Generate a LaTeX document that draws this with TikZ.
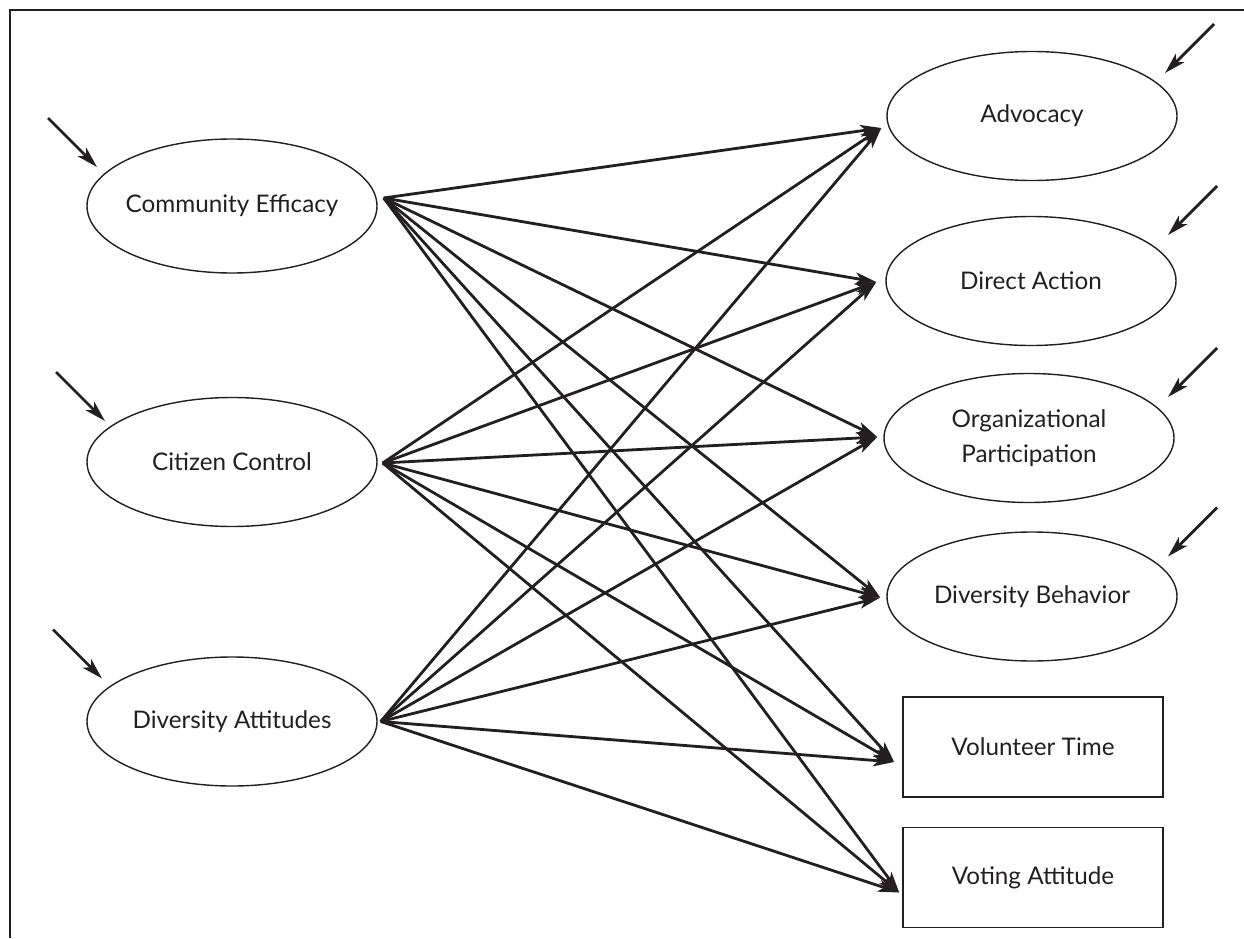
\documentclass[tikz,border=0pt]{standalone}
\usepackage{fontspec}
\setmainfont{Lato}
\usetikzlibrary{positioning, math, shapes.geometric, arrows.meta}
\definecolor{ink}{HTML}{231F20}
\tikzset{
latent/.style={draw=ink, ellipse, line width=0.4pt, minimum width=2.9cm, minimum height=1.29cm, inner sep=0pt, inner xsep=-0.1cm, align=center, text=ink, font=\fontsize{6.9}{9.9}\selectfont},
measured/.style={draw=ink, rectangle, line width=0.45pt, minimum width=2.6cm, minimum height=1cm, inner sep=0pt, text=ink, font=\fontsize{6.9}{9.9}\selectfont},
effect/.style={draw=ink, line width=0.8pt, -{Stealth[length=6pt, width=3.4pt, inset=1.5pt]}},
resid/.style={effect},
frame/.style={draw=ink, line width=0.75pt},
}

\begin{document}
\begin{tikzpicture}
    \tikzmath{ \err=0.49; };  % length of the residual arrows
    \useasboundingbox (0,0) rectangle (12.44,-9.38);

    %frame
    \draw[frame] (0.10,-9.38) -- (0.10,-0.10) -- (12.44,-0.10);

    %exogenous nodes
    \node[latent, minimum height=1.34cm] (ce) at (2.32,-2.06) {Community Efficacy};
    \node[latent]   (cc) at (2.32,-4.62)  {Citizen Control};
    \node[latent]   (da) at (2.32,-7.215) {Diversity Attitudes};

    %endogenous nodes
    \node[latent]  (adv) at (10.32,-1.16)  {Advocacy};
    \node[latent]  (dir) at (10.31,-2.81)  {Direct Action};
    \node[latent]  (org) at (10.29,-4.38)  {Organizational\\Participation};
    \node[latent] (divb) at (10.32,-5.965) {Diversity Behavior};
    \node[measured] (vt) at (10.33,-7.47)  {Volunteer Time};
    \node[measured] (va) at (10.33,-8.775) {Voting Attitude};

    %start points
    \coordinate (ce out) at ([shift={(0.06,0.08)}]ce.east);
    \coordinate (cc out) at ([shift={(0.05,-0.01)}]cc.east);
    \coordinate (da out) at ([shift={(0.03,0)}]da.east);

    %end points
    \coordinate (adv in)  at ([shift={(-0.05,-0.12)}]adv.west);
    \coordinate (dir in)  at ([shift={(-0.09,-0.01)}]dir.west);
    \coordinate (org in)  at ([shift={(-0.06,0.01)}]org.west);
    \coordinate (divb in) at ([shift={(-0.06,-0.01)}]divb.west);
    \coordinate (vt in)   at ([shift={(-0.08,-0.15)}]vt.west);
    \coordinate (va in)   at ([shift={(-0.03,-0.15)}]va.west);

    %paths from community efficacy
    \draw[effect] (ce out)--(adv in);
    \draw[effect] (ce out)--(dir in);
    \draw[effect] (ce out)--(org in);
    \draw[effect] (ce out)--(divb in);
    \draw[effect] (ce out)--(vt in);
    \draw[effect] (ce out)--(va in);

    %paths from citizen control
    \draw[effect] (cc out)--(adv in);
    \draw[effect] (cc out)--(dir in);
    \draw[effect] (cc out)--(org in);
    \draw[effect] (cc out)--(divb in);
    \draw[effect] (cc out)--(vt in);
    \draw[effect] (cc out)--(va in);

    %paths from diversity attitudes
    \draw[effect] (da out)--(adv in);
    \draw[effect] (da out)--(dir in);
    \draw[effect] (da out)--(org in);
    \draw[effect] (da out)--(divb in);
    \draw[effect] (da out)--(vt in);
    \draw[effect] (da out)--(va in);

    %residual arrows on the left
    \coordinate (ce e) at ([shift={(-1.35,0.39)}]ce.center);
    \coordinate (cc e) at ([shift={(-1.27,0.41)}]cc.center);
    \coordinate (da e) at ([shift={(-1.30,0.43)}]da.center);
    \draw[resid] ([shift={(-\err,\err)}]ce e)--(ce e);
    \draw[resid] ([shift={(-\err,\err)}]cc e)--(cc e);
    \draw[resid] ([shift={(-\err,\err)}]da e)--(da e);

    %residual arrows on the right
    \coordinate (adv e)  at ([shift={(1.33,0.43)}]adv.center);
    \coordinate (dir e)  at ([shift={(1.37,0.46)}]dir.center);
    \coordinate (org e)  at ([shift={(1.39,0.41)}]org.center);
    \coordinate (divb e) at ([shift={(1.36,0.40)}]divb.center);
    \draw[resid] ([shift={(\err,\err)}]adv e)--(adv e);
    \draw[resid] ([shift={(\err,\err)}]dir e)--(dir e);
    \draw[resid] ([shift={(\err,\err)}]org e)--(org e);
    \draw[resid] ([shift={(\err,\err)}]divb e)--(divb e);

\end{tikzpicture}
\end{document}
